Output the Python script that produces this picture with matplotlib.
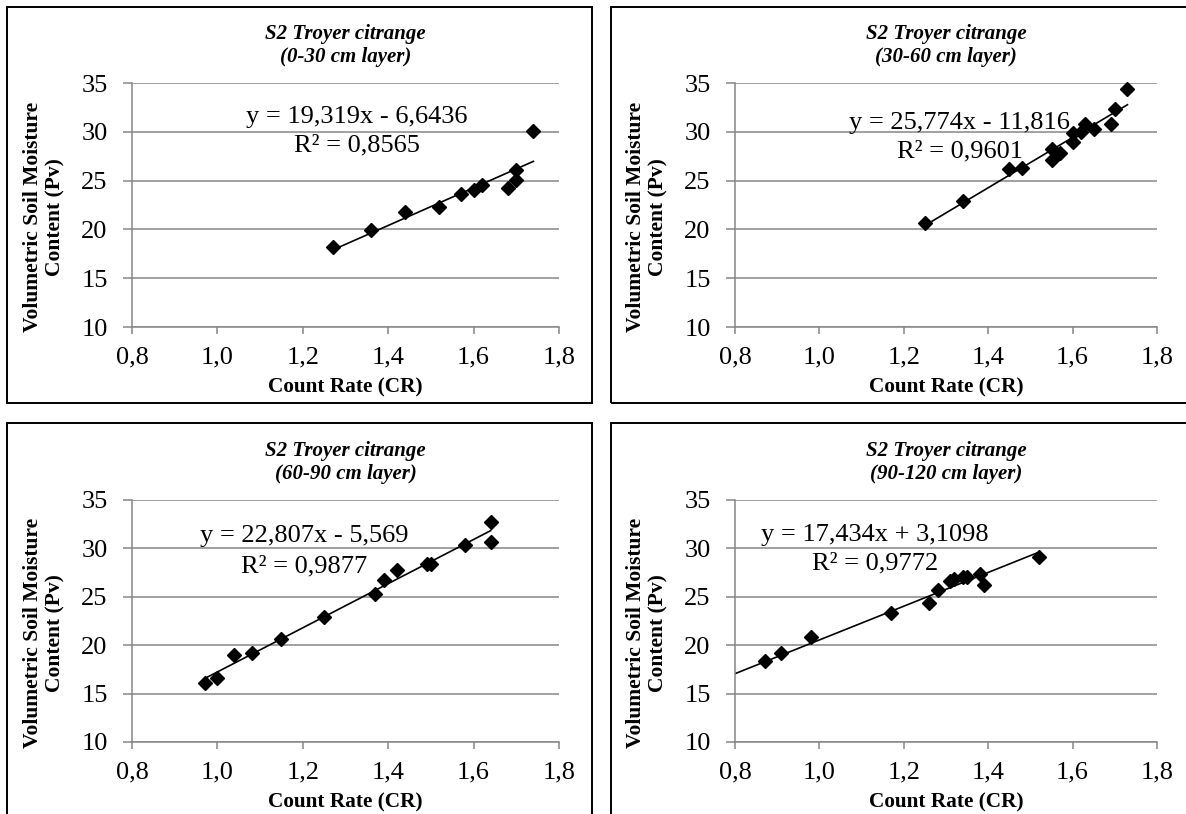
import matplotlib
matplotlib.use("Agg")
import matplotlib.pyplot as plt
from matplotlib.patches import Rectangle
from matplotlib.ticker import FuncFormatter
import numpy as np

plt.rcParams['font.family'] = ['Liberation Serif', 'DejaVu Serif']

# ---------------- data ----------------
titles = ["S2 Troyer citrange\n(0-30 cm layer)",
          "S2 Troyer citrange\n(30-60 cm layer)",
          "S2 Troyer citrange\n(60-90 cm layer)",
          "S2 Troyer citrange\n(90-120 cm layer)"]

x_0_30 = [1.27, 1.36, 1.44, 1.52, 1.57, 1.60, 1.62, 1.68, 1.70, 1.70, 1.74]
y_0_30 = [18.2, 19.9, 21.8, 22.3, 23.6, 24.0, 24.5, 24.2, 25.1, 26.1, 30.1]

x_30_60 = [1.25, 1.34, 1.45, 1.48, 1.55, 1.55, 1.57, 1.60, 1.60, 1.62, 1.63, 1.65, 1.69, 1.70, 1.73]
y_30_60 = [20.7, 22.9, 26.2, 26.3, 28.2, 27.1, 27.8, 29.0, 29.9, 30.0, 30.8, 30.3, 30.8, 32.3, 34.4]

x_60_90 = [0.97, 1.00, 1.04, 1.08, 1.15, 1.25, 1.37, 1.39, 1.42, 1.49, 1.50, 1.58, 1.64, 1.64]
y_60_90 = [16.1, 16.6, 19.0, 19.2, 20.6, 22.9, 25.3, 26.7, 27.8, 28.4, 28.4, 30.4, 30.7, 32.7]

x_90_120 = [0.87, 0.91, 0.98, 1.17, 1.26, 1.28, 1.31, 1.32, 1.34, 1.35, 1.38, 1.39, 1.52]
y_90_120 = [18.4, 19.2, 20.8, 23.3, 24.4, 25.7, 26.6, 26.8, 27.0, 27.0, 27.4, 26.2, 29.1]

slopes = [19.319, 25.774, 22.807, 17.434]
intercepts = [-6.6436, -11.816, -5.569, 3.1098]
trend_x_start = [1.27, 1.25, 0.97, 0.80]
trend_x_end = [1.74, 1.73, 1.64, 1.52]
eq_labels = ["y = 19,319x - 6,6436", "y = 25,774x - 11,816",
             "y = 22,807x - 5,569", "y = 17,434x + 3,1098"]
r2_labels = ["R² = 0,8565", "R² = 0,9601", "R² = 0,9877", "R² = 0,9772"]

x_ticks = [0.8, 1.0, 1.2, 1.4, 1.6, 1.8]
y_ticks = [10, 15, 20, 25, 30, 35]
x_label = "Count Rate (CR)"
y_label = "Volumetric Soil Moisture\nContent (Pv)"

xs = [x_0_30, x_30_60, x_60_90, x_90_120]
ys = [y_0_30, y_30_60, y_60_90, y_90_120]

# ---------------- layout ----------------
W, H = 1186, 814
fig = plt.figure(figsize=(W / 100, H / 100), dpi=100)
fig.patch.set_facecolor('white')

# axes pixel boxes: left, right, top, bottom
ax_boxes = [(132, 559, 83, 327), (735, 1157, 83, 327),
            (132, 559, 500, 742), (735, 1157, 500, 742)]
# frame boxes: left, right, top, bottom
frames = [(7, 592, 7, 403), (611, 1200, 7, 403),
          (7, 592, 423, 830), (611, 1200, 423, 830)]
eq_pos = [((0.527, 0.861), (0.527, 0.746)),
          ((0.533, 0.836), (0.533, 0.721)),
          ((0.403, 0.851), (0.403, 0.727)),
          ((0.332, 0.855), (0.332, 0.736))]

for fl, fr, ft, fb in frames:
    fig.add_artist(Rectangle((fl / W, 1 - fb / H), (fr - fl) / W, (fb - ft) / H,
                             transform=fig.transFigure, fill=False,
                             ec='black', lw=1.4, zorder=0))

grey = '#868686'
comma = FuncFormatter(lambda v, p: f"{v:.1f}".replace('.', ','))

for i in range(4):
    l, r, t, b = ax_boxes[i]
    hgt = b - t
    ax = fig.add_axes([l / W, 1 - b / H, (r - l) / W, hgt / H])
    ax.set_facecolor('none')
    ax.set_xlim(0.8, 1.8)
    ax.set_ylim(10, 35)
    ax.set_xticks(x_ticks)
    ax.set_yticks(y_ticks)
    ax.xaxis.set_major_formatter(comma)
    for s in ['top', 'right']:
        ax.spines[s].set_visible(False)
    for s in ['left', 'bottom']:
        ax.spines[s].set_color(grey)
        ax.spines[s].set_linewidth(1.1)
    ax.grid(axis='y', color=grey, lw=1.1)
    ax.set_axisbelow(True)
    ax.tick_params(axis='x', direction='out', length=5, width=1.1, color=grey,
                   labelsize=19, pad=9)
    ax.tick_params(axis='y', direction='out', length=6.5, width=1.1, color=grey,
                   labelsize=19, pad=11)

    ax.plot(xs[i], ys[i], linestyle='none', marker='D', markersize=6.8,
            color='black', zorder=3, clip_on=False)
    tx = np.array([trend_x_start[i], trend_x_end[i]])
    ax.plot(tx, slopes[i] * tx + intercepts[i], color='black', lw=1.2, zorder=2)

    (e1x, e1y), (e2x, e2y) = eq_pos[i]
    ax.text(e1x, e1y, eq_labels[i], transform=ax.transAxes, ha='center',
            va='center', fontsize=19)
    ax.text(e2x, e2y, r2_labels[i], transform=ax.transAxes, ha='center',
            va='center', fontsize=19)

    ax.text(0.5, 1 + 37.5 / hgt, titles[i], transform=ax.transAxes,
            ha='center', va='center', fontsize=15, fontweight='bold',
            fontstyle='italic', linespacing=1.2)

    ax.set_xlabel(x_label, fontsize=15.3, fontweight='bold')
    ax.xaxis.set_label_coords(0.5, -50 / hgt)
    ax.set_ylabel(y_label, fontsize=15.5, fontweight='bold', linespacing=1.15)
    ax.yaxis.set_label_coords(-67 / (r - l), 0.5 - 12 / hgt)

fig.savefig("out.png", dpi=100, facecolor='white')
